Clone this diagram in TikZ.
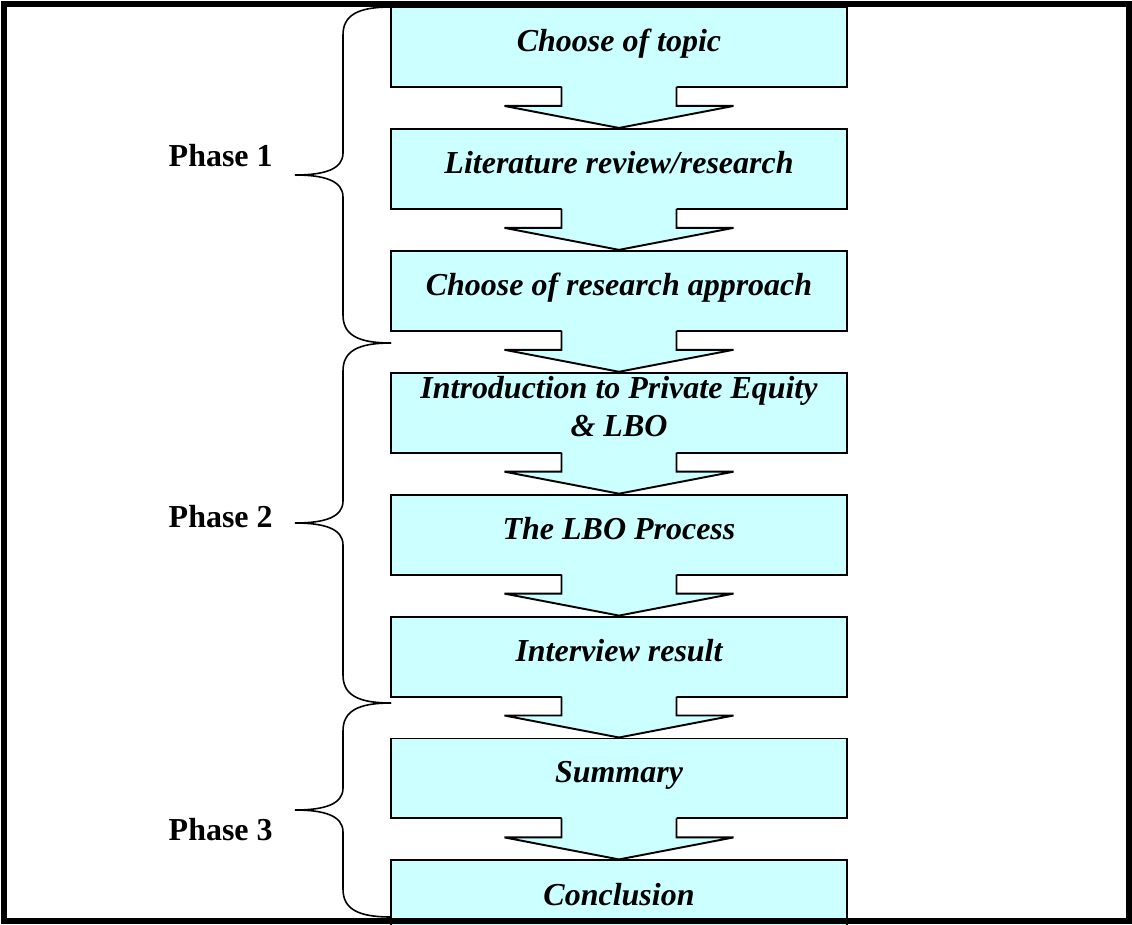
\documentclass[tikz,border=0pt]{standalone}
\usepackage{fontspec}
\setmainfont{Liberation Serif}
\usetikzlibrary{positioning, calc}
\definecolor{stagecyan}{HTML}{CCFFFF}

% block arrow from the bottom of one stage to the top of the next
\newcommand{\blockarrow}[2]{%
  \fill[stagecyan] ($(#1.south)+(-57.5,-3)$) -- ($(#1.south)+(-57.5,18)$) -- ($(#1.south)+(-114.5,18)$) -- (#2.north)
    -- ($(#1.south)+(114.5,18)$) -- ($(#1.south)+(57.5,18)$) -- ($(#1.south)+(57.5,-3)$) -- cycle;
  \draw[stageline] ($(#1.south)+(-57.5,-1)$) -- ($(#1.south)+(-57.5,18)$) -- ($(#1.south)+(-114.5,18)$) -- (#2.north)
    -- ($(#1.south)+(114.5,18)$) -- ($(#1.south)+(57.5,18)$) -- ($(#1.south)+(57.5,-1)$);}

% curly brace between two heights, tip pointing left
\newcommand{\phasebrace}[2]{%
  \pgfmathsetmacro{\bmid}{(#1+#2)/2}
  \draw[phasebrace] (391,#1) .. controls (358,#1) and (343,{#1+8}) .. (343,{#1+28}) -- (343,{\bmid-22})
    .. controls (343,{\bmid-6}) and (325,\bmid) .. (295,\bmid)
    .. controls (325,\bmid) and (343,{\bmid+6}) .. (343,{\bmid+22}) -- (343,{#2-28})
    .. controls (343,{#2-8}) and (358,#2) .. (391,#2);}

\begin{document}
\begin{tikzpicture}[x=0.02cm, y=-0.02cm,
            node distance=0.8cm,
            stage/.style={draw=black, line width=1.1pt, fill=stagecyan, minimum width=9.12cm, minimum height=1.6cm, inner sep=0pt, align=center,
              font=\fontsize{18.2}{22}\selectfont\bfseries\itshape, execute at end node={\rule[-0.4em]{0pt}{0pt}}},
            stageline/.style={draw=black, line width=1.1pt},
            phaselabel/.style={anchor=east, inner sep=0pt, font=\fontsize{18.2}{22}\selectfont\bfseries},
            phasebrace/.style={draw=black, line width=0.9pt}]
            \useasboundingbox (0,0) rectangle (1132,924);
            \clip (0,0) rectangle (1132,924);

            % Stages
            \node (topic) [stage] at (619,47) {Choose of topic};
            \node (review) [stage, below=of topic] {Literature review/research};
            \node (approach) [stage, below=of review] {Choose of research approach};
            \node (intro) [stage, below=of approach] {Introduction to Private Equity\\\& LBO};
            \node (process) [stage, below=of intro] {The LBO Process};
            \node (interview) [stage, below=of process] {Interview result};
            \node (summary) [stage, below=of interview] {Summary};
            \node (conclusion) [stage, below=of summary] {Conclusion};

            % Arrows
            \blockarrow{topic}{review}
            \blockarrow{review}{approach}
            \blockarrow{approach}{intro}
            \blockarrow{intro}{process}
            \blockarrow{process}{interview}
            \blockarrow{interview}{summary}
            \blockarrow{summary}{conclusion}

            % Phases
            \node (phase1) [phaselabel] at (273,156) {Phase 1};
            \node (phase2) [phaselabel] at (273,517) {Phase 2};
            \node (phase3) [phaselabel] at (273,830) {Phase 3};
            \phasebrace{7}{343}
            \phasebrace{343}{703}
            \phasebrace{703}{917}

            % Frame
            \draw[line width=3.4pt] (4,4) rectangle (1129,921);
        \end{tikzpicture}
\end{document}
